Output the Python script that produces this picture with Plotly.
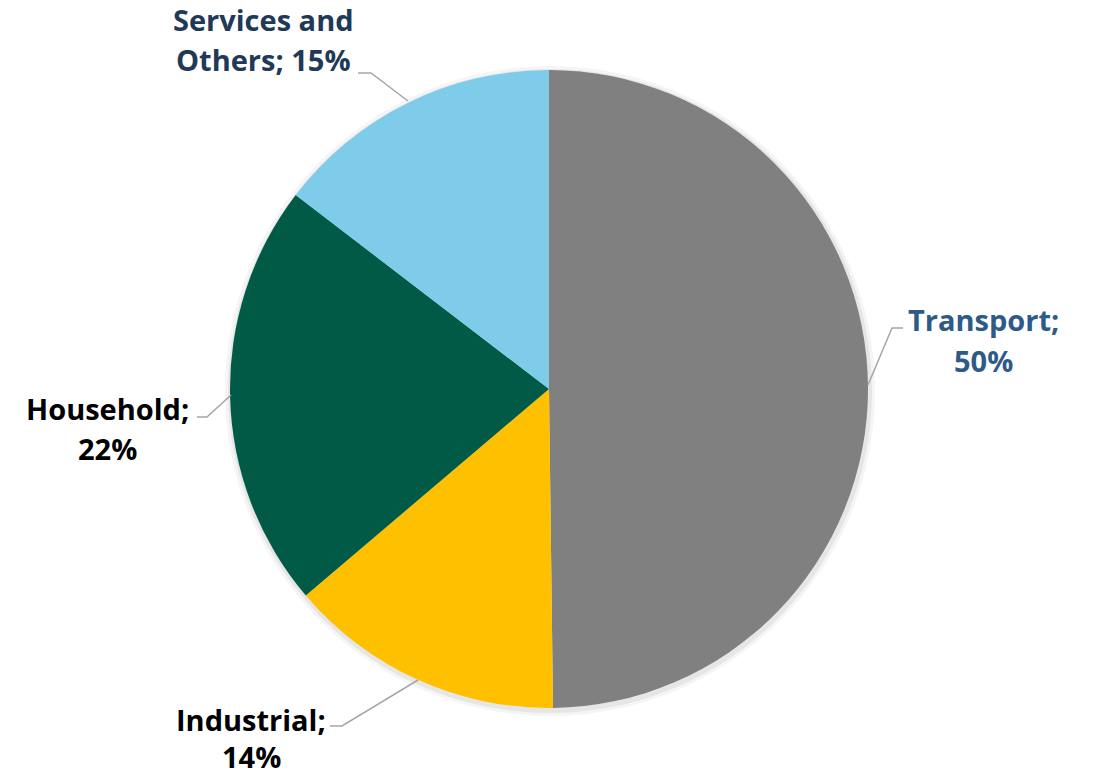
import plotly.graph_objects as go

categories = ["Transport", "Industrial", "Household", "Services and Others"]
shares = [49.8, 14.0, 21.6, 14.6]
colors = ["#808080", "#FFC000", "#005A46", "#7FCBEA"]
label_lines = [["Transport;", "50%"], ["Industrial;", "14%"], ["Household;", "22%"], ["Services and", "Others; 15%"]]
label_colors = ["#2E5A87", "#000000", "#000000", "#1F3A57"]

W, H = 1094, 775
cx, cy, r = 549, 389, 319

def px(x):
    return x / W

def py(y):
    return 1 - y / H

fig = go.Figure()

# soft shadow
for k, (grow, alpha) in enumerate([(6, 0.04), (3, 0.06)]):
    rr = r + grow
    fig.add_trace(go.Pie(
        values=[1], marker=dict(colors=[f"rgba(0,0,0,{alpha})"], line=dict(width=0)),
        textinfo="none", hoverinfo="skip", showlegend=False, sort=False,
        domain=dict(x=[px(cx - rr + 1), px(cx + rr + 1)], y=[py(cy + rr + 2), py(cy - rr + 2)]),
    ))

fig.add_trace(go.Pie(
    labels=categories, values=shares, sort=False, direction="clockwise", rotation=0,
    marker=dict(colors=colors, line=dict(width=0)),
    textinfo="none", showlegend=False,
    domain=dict(x=[px(cx - r), px(cx + r)], y=[py(cy + r), py(cy - r)]),
))

# label positions (centre x, first line y, line gap) and leader lines
label_pos = [(984, 320, 40), (251, 719, 37), (107, 408, 40), (263, 20, 40)]
leaders = [
    [(903, 328), (892, 328), (868, 385)],
    [(330, 726), (342, 726), (418, 680)],
    [(197, 417), (207, 417), (231, 395)],
    [(358, 73), (371, 73), (408, 101)],
]

for i in range(len(categories)):
    x0, y0, gap = label_pos[i]
    for j, t in enumerate(label_lines[i]):
        fig.add_annotation(
            x=px(x0), y=py(y0 + j * gap), xref="paper", yref="paper",
            text=t, showarrow=False, xanchor="center", yanchor="middle",
            font=dict(family="Open Sans", size=29, color=label_colors[i], weight="bold"),
        )
    pts = leaders[i]
    path = "M " + " L ".join(f"{px(a)},{py(b)}" for a, b in pts)
    fig.add_shape(type="path", path=path, xref="paper", yref="paper",
                  line=dict(color="#A6A6A6", width=1.5))

fig.update_layout(
    width=W, height=H, margin=dict(l=0, r=0, t=0, b=0),
    paper_bgcolor="white", plot_bgcolor="white",
)

fig.write_html("out.html")
